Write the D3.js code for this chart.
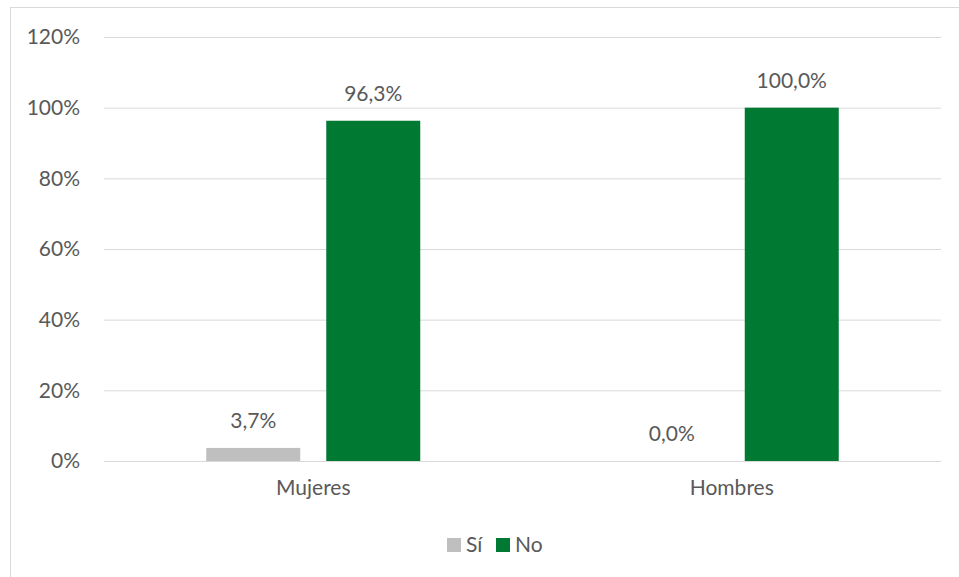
<!DOCTYPE html>
<html>
<head>
<meta charset="utf-8">
<script src="https://cdn.jsdelivr.net/npm/d3@7"></script>
<style>
  html, body { margin: 0; padding: 0; background: #fff; }
  svg { display: block; }
  text { font-family: Lato, "Open Sans", sans-serif; fill: #595959; }
</style>
</head>
<body>
<svg id="chart" width="959" height="577"></svg>
<script>
// Chart data
const categories = ["Mujeres", "Hombres"];
const seriesNames = ["Sí", "No"];
const siValues = [0.037, 0.0];
const noValues = [0.963, 1.0];
const yTicks = [0, 0.2, 0.4, 0.6, 0.8, 1.0, 1.2];
const seriesColors = ["#BFBFBF", "#007A33"];

(function () {
  const svg = d3.select("#chart");
  const W = 959, H = 577;
  const FS = "21px";
  const FF = "Lato, 'Open Sans', sans-serif";

  // Outer chart frame
  svg.append("rect")
    .attr("x", 10.5).attr("y", 7.5)
    .attr("width", W).attr("height", H)
    .attr("fill", "#fff").attr("stroke", "#D9D9D9").attr("stroke-width", 1);

  const plotLeft = 104, plotRight = 941, plotTop = 37, plotBottom = 461;

  const y = d3.scaleLinear().domain([0, 1.2]).range([plotBottom, plotTop]);
  const x0 = d3.scaleBand().domain(categories).range([plotLeft, plotRight]).padding(0);
  const x1 = d3.scaleBand().domain(seriesNames).range([0, x0.bandwidth()])
    .paddingInner(0.2167).paddingOuter(0.852);

  const fmtTick = d => d3.format(".0f")(d * 100) + "%";
  const fmtVal = d => (d * 100).toFixed(1).replace(".", ",") + "%";

  // Gridlines and y-axis labels
  const yAxis = d3.axisLeft(y).tickValues(yTicks).tickFormat(fmtTick)
    .tickSize(-(plotRight - plotLeft)).tickPadding(24);
  const gy = svg.append("g").attr("transform", `translate(${plotLeft},0)`).call(yAxis);
  gy.select(".domain").remove();
  gy.selectAll(".tick line").attr("stroke", "#D9D9D9").attr("stroke-width", 1);
  gy.selectAll(".tick text").style("font-size", FS).attr("fill", "#595959")
    .style("font-family", FF);

  // Category axis labels
  const xAxis = d3.axisBottom(x0).tickSize(0).tickPadding(19);
  const gx = svg.append("g").attr("transform", `translate(0,${plotBottom})`).call(xAxis);
  gx.select(".domain").remove();
  gx.selectAll(".tick text").style("font-size", FS).attr("fill", "#595959")
    .style("font-family", FF);

  // Bars
  const rows = categories.map((c, i) => ({
    cat: c,
    vals: [{ s: "Sí", v: siValues[i] }, { s: "No", v: noValues[i] }]
  }));
  const groups = svg.selectAll("g.cat").data(rows).join("g")
    .attr("class", "cat")
    .attr("transform", d => `translate(${x0(d.cat)},0)`);

  groups.selectAll("rect").data(d => d.vals).join("rect")
    .attr("x", d => x1(d.s))
    .attr("y", d => y(d.v))
    .attr("width", x1.bandwidth())
    .attr("height", d => plotBottom - y(d.v))
    .attr("fill", (d, i) => seriesColors[i]);

  // Value labels
  groups.selectAll("text.val").data(d => d.vals).join("text")
    .attr("class", "val")
    .attr("x", d => x1(d.s) + x1.bandwidth() / 2)
    .attr("y", d => y(d.v) - 20)
    .attr("text-anchor", "middle")
    .style("font-size", FS)
    .text(d => fmtVal(d.v));

  // Legend
  const legend = svg.append("g").attr("transform", "translate(447,538)");
  const items = [{ name: "Sí", x: 0 }, { name: "No", x: 49 }];
  items.forEach((it, i) => {
    legend.append("rect").attr("x", it.x).attr("y", 0).attr("width", 14).attr("height", 14)
      .attr("fill", seriesColors[i]);
    legend.append("text").attr("x", it.x + 19).attr("y", 14)
      .style("font-size", FS).text(it.name);
  });
})();
</script>
</body>
</html>
